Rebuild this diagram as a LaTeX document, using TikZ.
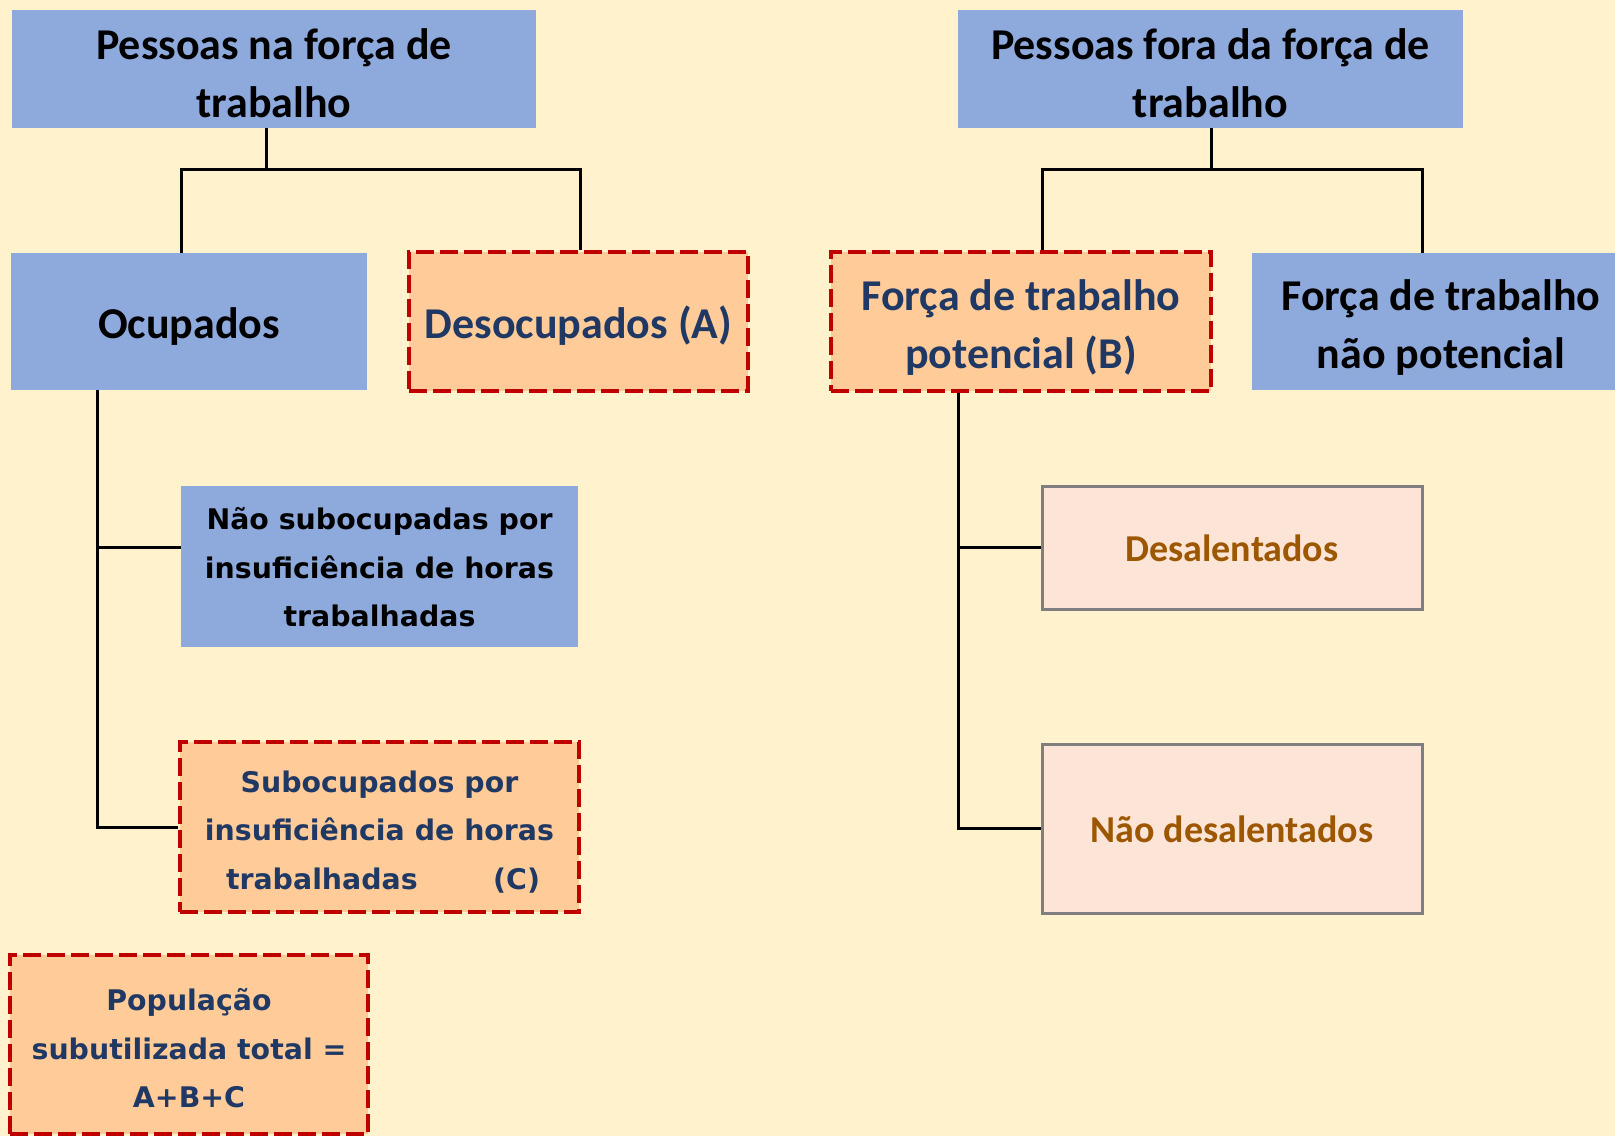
\documentclass[tikz,border=0pt]{standalone}
\usepackage{fontspec}
\setmainfont{Carlito}
\newfontfamily\vfont{DejaVu Sans}
\usetikzlibrary{calc}
\definecolor{bgc}{HTML}{FFF2CC}
\definecolor{bluec}{HTML}{8EA9DB}
\definecolor{peachc}{HTML}{FFCC99}
\definecolor{redc}{HTML}{C00000}
\definecolor{pinkc}{HTML}{FCE4D6}
\definecolor{grayc}{HTML}{7F7F7F}
\definecolor{navyc}{HTML}{203864}
\definecolor{brownc}{HTML}{9C5700}
\tikzset{
  box/.style={rectangle, inner sep=0pt, anchor=center},
  bluebox/.style={box, fill=bluec},
  redbox/.style={box, fill=peachc, draw=redc, line width=4pt, dash pattern=on 18pt off 6pt},
  pinkbox/.style={box, fill=pinkc, draw=grayc, line width=3pt},
  bigtxt/.style={align=center, font=\bfseries\fontsize{44}{58}\selectfont},
  smalltxt/.style={align=center, font=\vfont\bfseries\fontsize{28.4}{48.5}\selectfont},
  midtxt/.style={align=center, text=brownc, font=\bfseries\fontsize{38}{50}\selectfont},
  conn/.style={draw=black, line width=3pt}
}
\begin{document}
\begin{tikzpicture}[x=1pt,y=-1pt]
\fill[bgc] (0,0) rectangle (1615,1136);
\useasboundingbox (0,0) rectangle (1615,1136);

\node[bluebox, minimum width=524pt, minimum height=118pt,
  label={[bigtxt, text=black, yshift=-4pt]center:{Pessoas na força de\\trabalho}}] (top1) at (274,69) {};
\node[bluebox, minimum width=505pt, minimum height=118pt,
  label={[bigtxt, text=black, yshift=-4pt]center:{Pessoas fora da força de\\trabalho}}] (top2) at (1210.5,69) {};
\node[bluebox, minimum width=356pt, minimum height=137pt,
  label={[bigtxt, text=black, yshift=-5pt]center:{Ocupados}}] (ocup) at (189,321.5) {};
\node[redbox, minimum width=339pt, minimum height=139pt,
  label={[bigtxt, text=navyc, yshift=-4pt]center:{Desocupados (A)}}] (desoc) at (578.5,321.5) {};
\node[redbox, minimum width=380pt, minimum height=139pt,
  label={[bigtxt, text=navyc, yshift=-6pt]center:{Força de trabalho\\potencial (B)}}] (pot) at (1021,321.5) {};
\node[bluebox, minimum width=378pt, minimum height=137pt,
  label={[bigtxt, text=black, yshift=-6pt]center:{Força de trabalho\\não potencial}}] (npot) at (1441,321.5) {};
\node[bluebox, minimum width=397pt, minimum height=161pt,
  label={[smalltxt, text=black, yshift=-1pt]center:{Não subocupadas por\\insuficiência de horas\\trabalhadas}}] (naosub) at (379.5,566.5) {};
\node[redbox, minimum width=399pt, minimum height=170pt,
  label={[smalltxt, text=navyc, yshift=-5pt]center:{Subocupados por\\insuficiência de horas\\\makebox[335pt][s]{\hspace{14pt}trabalhadas\hfill(C)\hspace{7pt}}}}] (subo) at (379.5,827) {};
\node[redbox, minimum width=358pt, minimum height=179pt,
  label={[smalltxt, text=navyc, yshift=-4pt]center:{População\\subutilizada total =\\A+B+C}}] (pop) at (189,1044.5) {};
\node[pinkbox, minimum width=380pt, minimum height=123pt,
  label={[midtxt, yshift=-1pt]center:{Desalentados}}] (desal) at (1232,547.5) {};
\node[pinkbox, minimum width=380pt, minimum height=169pt,
  label={[midtxt, yshift=-1pt]center:{Não desalentados}}] (ndesal) at (1232,828.5) {};

\coordinate (j1) at (266,169);
\coordinate (o1) at (181,0);
\coordinate (d1) at (580,0);
\coordinate (j2) at (1211,169);
\coordinate (p2) at (1042,0);
\coordinate (n2) at (1422,0);
\coordinate (s1) at (97,0);
\coordinate (b1) at (0,547);
\coordinate (s2) at (958,0);

\draw[conn] (top1.south -| j1) -- (j1);
\draw[conn] (ocup.north -| o1) -- (o1 |- j1) -- (d1 |- j1) -- (desoc.north -| d1);
\draw[conn] (top2.south -| j2) -- (j2);
\draw[conn] (pot.north -| p2) -- (p2 |- j2) -- (n2 |- j2) -- (npot.north -| n2);
\draw[conn] (ocup.south -| s1) |- (subo.west);
\draw[conn] (s1 |- b1) -- (naosub.west |- b1);
\draw[conn] (pot.south -| s2) |- (ndesal.west);
\draw[conn] (s2 |- desal.west) -- (desal.west);
\end{tikzpicture}
\end{document}
